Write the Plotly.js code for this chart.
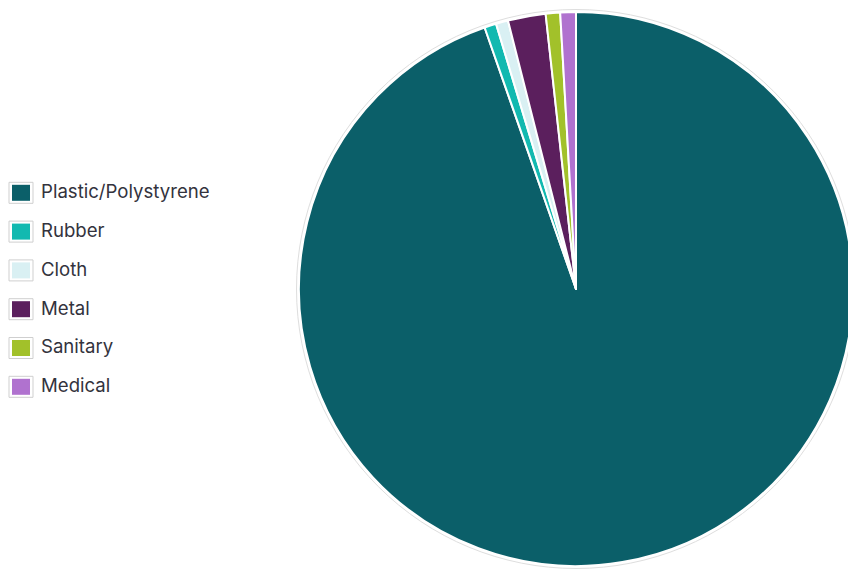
<!DOCTYPE html>
<html>
<head>
<meta charset="utf-8">
<script src="https://cdn.plot.ly/plotly-3.0.1.min.js"></script>
<style>
html, body { margin: 0; padding: 0; overflow: hidden; background: #fff; }
#chart { width: 860px; height: 570px; }
</style>
</head>
<body>
<div id="chart"></div>
<script>
// Data
const categories = ["Plastic/Polystyrene", "Rubber", "Cloth", "Metal", "Sanitary", "Medical"];
const values = [94.65, 0.69, 0.71, 2.20, 0.84, 0.91];
const colors = ["#0b5f69", "#12b9b0", "#d9f0f3", "#5b1f5d", "#a2c12a", "#b072cf"];

// Layout geometry (pixels)
const W = 860, H = 570;
const M = {l: 0, r: 7, t: 12, b: 4};
const plotW = W - M.l - M.r, plotH = H - M.t - M.b;
const px = x => (x - M.l) / plotW;
const py = y => (H - M.b - y) / plotH;

const cx = 576, cy = 289, R = 277;

const shapes = [{
  type: "circle", xref: "paper", yref: "paper", layer: "below",
  x0: px(cx - R - 2.5), x1: px(cx + R + 2.5), y0: py(cy + R + 2.5), y1: py(cy - R - 2.5),
  line: {color: "#dedede", width: 1}, fillcolor: "rgba(0,0,0,0)"
}];
const annotations = [];
categories.forEach((c, i) => {
  const yc = 192.8 + 38.8 * i;
  shapes.push({
    type: "rect", xref: "paper", yref: "paper",
    x0: px(9), x1: px(33), y0: py(yc + 10.5), y1: py(yc - 10.5),
    line: {color: "#cfcfcf", width: 1}, fillcolor: "#ffffff"
  });
  shapes.push({
    type: "rect", xref: "paper", yref: "paper",
    x0: px(12), x1: px(30), y0: py(yc + 8), y1: py(yc - 8),
    line: {width: 0}, fillcolor: colors[i]
  });
  annotations.push({
    xref: "paper", yref: "paper", x: px(38.5), y: py(yc - 1.5),
    xanchor: "left", yanchor: "middle", showarrow: false,
    text: c, font: {family: "Inter, 'Open Sans', sans-serif", size: 18.6, color: "#33333d"}
  });
});

const trace = {
  type: "pie",
  labels: categories,
  values: values,
  sort: false,
  direction: "clockwise",
  rotation: 0,
  marker: {colors: colors, line: {color: "#ffffff", width: 2}},
  textinfo: "none",
  hoverinfo: "label+percent",
  showlegend: false,
  domain: {x: [px(cx - R), px(cx + R)], y: [py(cy + R), py(cy - R)]}
};

const layout = {
  width: W, height: H,
  margin: M,
  paper_bgcolor: "#ffffff",
  plot_bgcolor: "#ffffff",
  showlegend: false,
  shapes: shapes,
  annotations: annotations
};

Plotly.newPlot("chart", [trace], layout, {displayModeBar: false, staticPlot: true});
</script>
</body>
</html>
